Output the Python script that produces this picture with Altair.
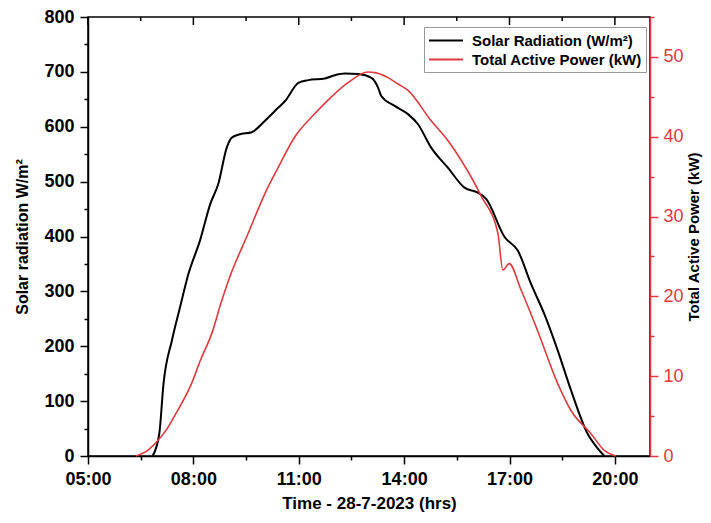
import altair as alt
import pandas as pd

FONT = "Liberation Sans"
RED = "#dd3b3e"
SOLAR = "Solar Radiation (W/m²)"
POWER = "Total Active Power (kW)"

solar_hours = [6.84, 7.03, 7.15, 7.39, 7.62, 7.86, 8.19, 8.48, 8.71, 8.95, 9.09, 9.3, 9.66,
               10.04, 10.42, 10.61, 10.99, 11.27, 11.74, 12.03, 12.31, 12.69, 13.07, 13.26,
               13.35, 13.73, 14.11, 14.39, 14.77, 15.25, 15.72, 16.1, 16.34, 16.86, 17.24,
               17.61, 17.99, 18.37, 18.75, 19.22, 19.51, 19.7]
solar_wm2 = [0, 41, 132, 211, 271, 332, 393, 459, 496, 562, 580, 586, 590,
             611, 635, 647, 680, 685, 688, 694, 697, 696, 689, 671,
             656, 638, 623, 605, 562, 525, 489, 480, 468, 399, 374,
             314, 259, 193, 120, 41, 14, 0]

power_hours = [6.36, 6.7, 7.0, 7.25, 7.5, 7.95, 8.2, 8.52, 8.81, 9.0, 9.56, 10.04, 10.42,
               10.89, 11.46, 11.93, 12.41, 12.97, 13.2, 13.54, 13.83, 14.11, 14.77, 15.25,
               15.44, 16.19, 16.67, 16.81, 16.99, 17.33, 17.8, 18.37, 18.75, 19.32, 19.7, 20.03]
power_kw = [0, 0.7, 2.0, 3.4, 5.3, 9.1, 12.0, 15.3, 19.5, 22.0, 27.9, 32.9, 36.2,
            40.0, 42.9, 45.0, 46.8, 48.1, 48.0, 47.4, 46.6, 45.8, 42.0, 39.5,
            38.3, 32.6, 27.9, 23.3, 24.1, 20.8, 15.7, 9.1, 5.7, 2.8, 0.7, 0]

x_ticks = [5, 6.5, 8, 9.5, 11, 12.5, 14, 15.5, 17, 18.5, 20]
x_major = [5, 8, 11, 14, 17, 20]
x_minor = [6.5, 9.5, 12.5, 15.5, 18.5]
left_ticks = [0, 50, 100, 150, 200, 250, 300, 350, 400, 450, 500, 550, 600, 650, 700, 750, 800]
right_ticks = [0, 5, 10, 15, 20, 25, 30, 35, 40, 45, 50, 55]

solar_df = pd.DataFrame({"h": solar_hours, "v": solar_wm2, "series": SOLAR})
power_df = pd.DataFrame({"h": power_hours, "v": power_kw, "series": POWER})
top_major_df = pd.DataFrame({"t": x_major})
top_minor_df = pd.DataFrame({"t": x_minor})

xscale = alt.Scale(domain=[5, 21], nice=False, zero=False)

color = alt.Color(
    "series:N",
    scale=alt.Scale(domain=[SOLAR, POWER], range=["#000000", RED]),
    legend=alt.Legend(
        title=None, orient="none", legendX=336, legendY=10,
        symbolType="M-1,0H3", symbolSize=289, symbolStrokeWidth=2,
        labelFont=FONT, labelFontSize=15, labelFontWeight="bold", labelColor="black",
        labelOffset=25, labelLimit=400,
        strokeColor="#999999", fillColor="white", padding=4, rowPadding=1,
    ),
)

xaxis = alt.Axis(
    values=x_ticks, orient="bottom",
    labelExpr="datum.value % 3 == 2 ? (datum.value < 10 ? '0' : '') + datum.value + ':00' : ''",
    tickSize={"condition": {"test": "datum.value % 3 == 2", "value": 8}, "value": 4},
    labelFont=FONT, labelFontSize=18, labelFontWeight="bold", labelColor="black",
    labelPadding=6, labelOverlap=False, labelFlush=False,
    title="Time - 28-7-2023 (hrs)", titleFont=FONT, titleFontSize=17, titleFontWeight="bold",
    titleColor="black", titlePadding=7,
    domainColor="black", domainWidth=1.5, tickColor="black", tickWidth=1.5, grid=False,
)

left_axis = alt.Axis(
    values=left_ticks, orient="left",
    labelExpr="datum.value % 100 == 0 ? datum.label : ''",
    tickSize={"condition": {"test": "datum.value % 100 == 0", "value": 8}, "value": 4},
    labelFont=FONT, labelFontSize=18, labelFontWeight="bold", labelColor="black",
    labelPadding=6, labelOverlap=False, labelFlush=False,
    title="Solar radiation W/m²", titleFont=FONT, titleFontSize=16, titleFontWeight="bold",
    titleColor="black", titlePadding=13,
    domainColor="black", domainWidth=1.5, tickColor="black", tickWidth=1.5, grid=False,
)

right_axis = alt.Axis(
    values=right_ticks, orient="right",
    labelExpr="datum.value % 10 == 0 ? datum.label : ''",
    tickSize={"condition": {"test": "datum.value % 10 == 0", "value": 8}, "value": 4},
    labelFont=FONT, labelFontSize=18, labelFontWeight="normal", labelColor=RED,
    labelPadding=5, labelOverlap=False, labelFlush=False,
    title="Total Active Power (kW)", titleFont=FONT, titleFontSize=15, titleFontWeight="bold",
    titleColor="black", titleAngle=270, titleBaseline="top", titlePadding=3,
    domainColor=RED, domainWidth=1.5, tickColor=RED, tickWidth=1.5, grid=False,
)

solar = alt.Chart(solar_df).mark_line(strokeWidth=2, interpolate="monotone").encode(
    x=alt.X("h:Q", scale=xscale, axis=xaxis),
    y=alt.Y("v:Q", scale=alt.Scale(domain=[0, 800], nice=False), axis=left_axis),
    color=color,
)

power = alt.Chart(power_df).mark_line(strokeWidth=1.6, interpolate="monotone").encode(
    x=alt.X("h:Q", scale=xscale, axis=xaxis),
    y=alt.Y("v:Q", scale=alt.Scale(domain=[0, 55], nice=False), axis=right_axis),
    color=color,
)

top_major = alt.Chart(top_major_df).mark_rule(color="black", strokeWidth=1.5).encode(
    x=alt.X("t:Q", scale=xscale, axis=xaxis),
    y=alt.value(0), y2=alt.value(8),
)
top_minor = alt.Chart(top_minor_df).mark_rule(color="black", strokeWidth=1.5).encode(
    x=alt.X("t:Q", scale=xscale, axis=xaxis),
    y=alt.value(0), y2=alt.value(4),
)

chart = (
    alt.layer(solar, power, top_major, top_minor)
    .resolve_scale(y="independent")
    .properties(
        width=562, height=439,
        autosize=alt.AutoSizeParams(type="none"),
        padding={"left": 80, "top": 9, "right": 53, "bottom": 63},
        background="white",
    )
    .configure_view(stroke="black", strokeWidth=1.5)
)

chart.save("out.html", embed_options={"renderer": "svg", "actions": False})
